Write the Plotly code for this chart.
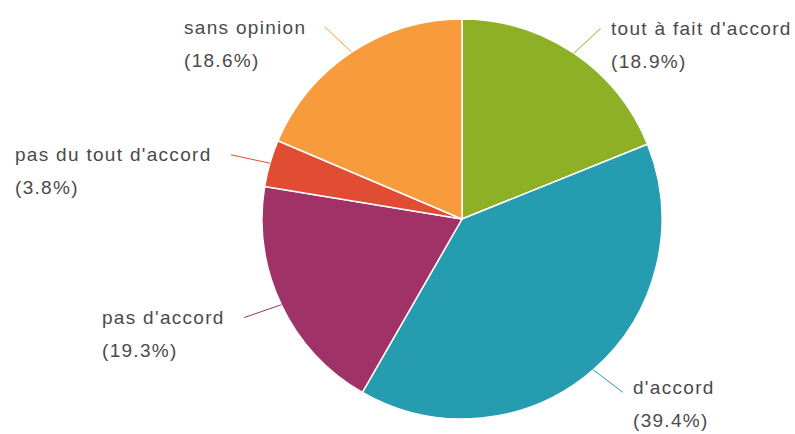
import math
import plotly.graph_objects as go

# survey answers, clockwise from 12 o'clock
labels = ["tout à fait d'accord", "d'accord", "pas d'accord",
          "pas du tout d'accord", "sans opinion"]
shares = [18.9, 39.4, 19.3, 3.8, 18.6]
colors = ["#8DB027", "#269CB0", "#A03268", "#E04D32", "#F79B3C"]

W, H = 795, 434
CX, CY, R = 462, 219, 200      # pie centre / radius in pixels
LABEL_DIST = 30                # label ring distance beyond the edge
LINE_GAP = 33                  # pixels between label lines
FONT = "Liberation Sans, Arial, sans-serif"
TEXT_COLOR = "#4a4a4a"


def px(x):
    return x / W


def py(y):
    return 1 - y / H


fig = go.Figure()
fig.add_trace(go.Pie(
    labels=labels,
    values=shares,
    sort=False,
    direction="clockwise",
    rotation=0,
    marker=dict(colors=colors, line=dict(color="white", width=1.5)),
    textinfo="none",
    hoverinfo="label+percent",
    domain=dict(x=[px(CX - R), px(CX + R)], y=[py(CY + R), py(CY - R)]),
))

total = sum(shares)
cum = 0.0
shapes, annotations = [], []
for name, val, col in zip(labels, shares, colors):
    mid = (cum + val / 2) / total * 2 * math.pi
    cum += val
    s, c = math.sin(mid), math.cos(mid)
    right = s >= 0
    # connector from slice edge to label ring
    x0, y0 = CX + R * s, CY - R * c
    ey = CY - (R + LABEL_DIST) * c
    dx = math.sqrt(max((R + LABEL_DIST) ** 2 - (ey - CY) ** 2, 0)) + 10
    ex = CX + dx if right else CX - dx
    shapes.append(dict(type="line", xref="paper", yref="paper",
                       x0=px(x0), y0=py(y0), x1=px(ex), y1=py(ey),
                       line=dict(color=col, width=1)))
    # keep the two-line label inside the chart
    ty = min(ey, H - 14 - LINE_GAP)
    span = "<span style='font-size:19px;letter-spacing:1.3px'>%s</span>"
    txt = span % name + "<br>" + span % f"({val}%)"
    annotations.append(dict(
        x=px(ex + 8 if right else ex - 17), y=py(ty + LINE_GAP / 2),
        xref="paper", yref="paper",
        xanchor="left" if right else "right", yanchor="middle",
        align="left", showarrow=False, text=txt,
        font=dict(family=FONT, size=LINE_GAP / 1.3, color=TEXT_COLOR),
    ))

fig.update_layout(
    width=W, height=H,
    margin=dict(l=0, r=0, t=0, b=0),
    paper_bgcolor="white",
    showlegend=False,
    shapes=shapes,
    annotations=annotations,
)

# drop the default 8px body margin so the figure fills the window
fig.write_html("out.html", config={"displayModeBar": False},
               post_script="document.body.style.margin='0';")
